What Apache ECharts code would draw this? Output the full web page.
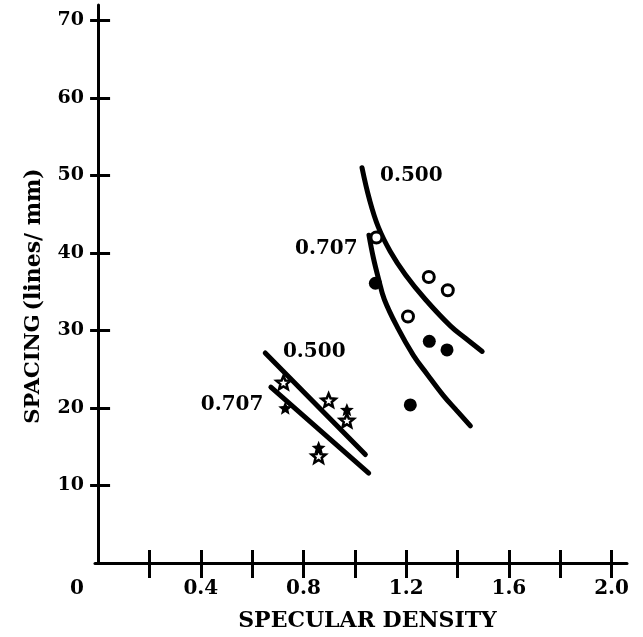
<!DOCTYPE html>
<html>
<head>
<meta charset="utf-8">
<script src="https://cdn.jsdelivr.net/npm/echarts@6/dist/echarts.min.js"></script>
<style>
html,body{margin:0;padding:0;background:#fff;}
#chart{width:643px;height:637px;}
</style>
</head>
<body>
<div id="chart"></div>
<script>
// ---- data ----
const xTickValues = [0.2, 0.4, 0.6, 0.8, 1.0, 1.2, 1.4, 1.6, 1.8, 2.0];
const xLabelValues = [0, 0.4, 0.8, 1.2, 1.6, 2.0];
const yTickValues = [10, 20, 30, 40, 50, 60, 70];

const openCircles = [[1.084, 42.0], [1.288, 36.9], [1.362, 35.2], [1.207, 31.8]];
const filledCircles = [[1.080, 36.1], [1.290, 28.6], [1.359, 27.5], [1.216, 20.4]];
const openStars = [[0.722, 23.3], [0.898, 21.0], [0.969, 18.4], [0.859, 13.8]];
const filledStars = [[0.729, 20.0], [0.969, 19.8], [0.859, 14.9]];

const circleCurve500 = [[1.028, 51.0], [1.057, 46.9], [1.092, 43.3], [1.138, 40.2], [1.197, 37.2], [1.275, 34.0], [1.372, 30.6], [1.431, 29.0], [1.496, 27.3]];
const circleCurve707 = [[1.055, 42.3], [1.072, 39.4], [1.092, 36.7], [1.115, 34.0], [1.166, 30.4], [1.228, 26.8], [1.283, 24.3], [1.345, 21.6], [1.396, 19.7], [1.450, 17.7]];
const starLine500 = [[0.651, 27.1], [1.041, 14.0]];
const starLine707 = [[0.673, 22.7], [1.054, 11.6]];

const curveLabels = [
  {text: '0.500', at: [1.220, 49.9]},
  {text: '0.707', at: [0.889, 40.5]},
  {text: '0.500', at: [0.842, 27.3]},
  {text: '0.707', at: [0.522, 20.4]}
];

// ---- chart ----
const FONT = 'DejaVu Serif';
const STAR = 'path://M50 0 L62.93 32.2 L97.55 34.55 L70.92 56.8 L79.39 90.45 L50 72 L20.61 90.45 L29.08 56.8 L2.45 34.55 L37.07 32.2 Z';
const chart = echarts.init(document.getElementById('chart'), null, {renderer: 'canvas'});

function curve(data) {
  return {
    type: 'line', data: data, smooth: 0.4, showSymbol: false, symbol: 'none',
    lineStyle: {color: '#000', width: 5, cap: 'round', opacity: 1}, z: 2, silent: true
  };
}

const option = {
  backgroundColor: '#fff',
  animation: false,
  grid: {left: 95, right: 16, top: 5, bottom: 74},
  xAxis: [
    {
      type: 'value', min: -0.012, max: 2.06,
      splitLine: {show: false},
      axisLine: {lineStyle: {color: '#000', width: 3}},
      axisTick: {customValues: xTickValues, length: 15, lineStyle: {color: '#000', width: 3}},
      axisLabel: {
        customValues: xLabelValues, margin: 16, color: '#000', fontFamily: FONT, fontSize: 20, fontWeight: 'bold',
        formatter: function (v) { return Math.abs(v) < 1e-9 ? '{z|0}' : v.toFixed(1); },
        rich: {z: {fontFamily: FONT, fontSize: 20, fontWeight: 'bold', color: '#000', padding: [0, 42, 0, 0]}}
      },
      name: 'SPECULAR DENSITY', nameLocation: 'middle', nameGap: 47,
      nameTextStyle: {color: '#000', fontFamily: FONT, fontSize: 22, fontWeight: 'bold', padding: [0, 0, 0, 13]}
    },
    {
      type: 'value', min: -0.012, max: 2.06, position: 'bottom',
      splitLine: {show: false}, axisLine: {show: false}, axisLabel: {show: false},
      axisTick: {inside: true, customValues: xTickValues, length: 13, lineStyle: {color: '#000', width: 3}}
    }
  ],
  yAxis: [
    {
      type: 'value', min: 0, max: 72,
      splitLine: {show: false},
      axisLine: {lineStyle: {color: '#000', width: 3}},
      axisTick: {customValues: yTickValues, length: 8, lineStyle: {color: '#000', width: 3}},
      axisLabel: {customValues: yTickValues, margin: 11, color: '#000', fontFamily: FONT, fontSize: 19, fontWeight: 'bold'},
      name: '{a|SPACING} {b|(lines/ mm)}', nameLocation: 'middle', nameGap: 50, nameRotate: 90,
      nameTextStyle: {
        color: '#000', fontFamily: FONT, padding: [0, 24, 0, 0],
        rich: {
          a: {fontFamily: FONT, fontSize: 21, fontWeight: 'bold', color: '#000'},
          b: {fontFamily: FONT, fontSize: 22, fontWeight: 'bold', color: '#000'}
        }
      }
    },
    {
      type: 'value', min: 0, max: 72, position: 'left',
      splitLine: {show: false}, axisLine: {show: false}, axisLabel: {show: false},
      axisTick: {inside: true, customValues: yTickValues, length: 12, lineStyle: {color: '#000', width: 3}}
    }
  ],
  series: [
    curve(circleCurve500),
    curve(circleCurve707),
    curve(starLine500),
    curve(starLine707),
    {
      type: 'scatter', data: filledCircles, symbol: 'circle', symbolSize: 13,
      itemStyle: {color: '#000', opacity: 1}, z: 3
    },
    {
      type: 'scatter', data: openCircles, symbol: 'circle', symbolSize: 11,
      itemStyle: {color: '#fff', borderColor: '#000', borderWidth: 3, opacity: 1}, z: 3
    },
    {
      type: 'scatter', data: filledStars, symbol: STAR, symbolSize: 14, symbolKeepAspect: true,
      itemStyle: {color: '#000', opacity: 1}, z: 3
    },
    {
      type: 'scatter', data: openStars, symbol: STAR, symbolSize: 14, symbolKeepAspect: true,
      itemStyle: {color: '#fff', borderColor: '#000', borderWidth: 2.5, opacity: 1}, z: 4
    },
    {
      type: 'scatter', symbolSize: 0, silent: true, z: 5,
      itemStyle: {opacity: 1},
      data: curveLabels.map(function (d) { return {value: d.at, name: d.text}; }),
      label: {
        show: true, position: 'inside', formatter: '{b}', opacity: 1,
        color: '#000', fontFamily: FONT, fontSize: 20, fontWeight: 'bold'
      }
    }
  ]
};
chart.setOption(option);
</script>
</body>
</html>
